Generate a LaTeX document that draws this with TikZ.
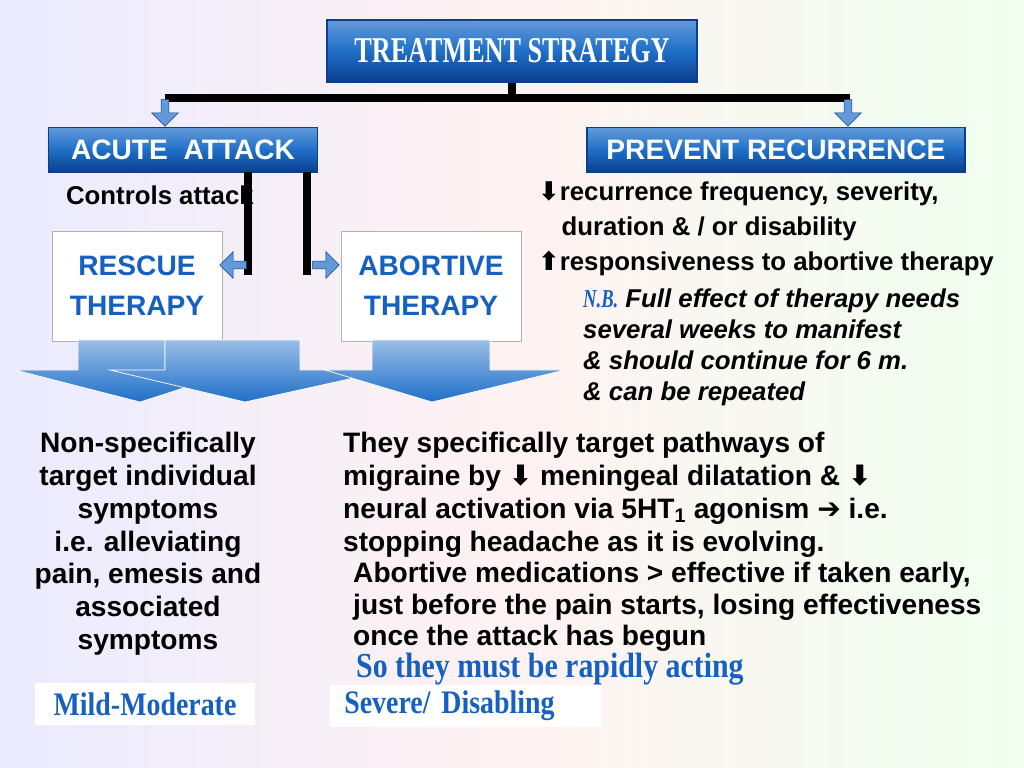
\documentclass[tikz,border=0pt]{standalone}
\usepackage{fontspec}
\setmainfont{Liberation Sans}
\newfontfamily\titlefont{Liberation Serif}[FakeStretch=0.72]
\newfontfamily\labelfont{Liberation Serif}[FakeStretch=0.85]
\newfontfamily\symfont{DejaVu Sans}
\usetikzlibrary{shapes.arrows}
\definecolor{boxblue}{HTML}{1F6FC8}
\definecolor{darkblue}{HTML}{0B3E8C}
\definecolor{txtblue}{HTML}{1560C0}
\newcommand{\dn}{{\symfont\char"2B07}}
\newcommand{\up}{{\symfont\char"2B06}}
\newcommand{\rt}{{\symfont\char"2794}}

\begin{document}
\begin{tikzpicture}[x=0.03cm,y=-0.03cm,font=\bfseries]
	\tikzstyle{headbox}=[draw=darkblue,line width=1.5pt,top color=boxblue!70,bottom color=darkblue,middle color=boxblue,text=white,inner sep=0pt]
	\tikzstyle{therapy}=[draw=gray!60,fill=white,text=txtblue,align=center,minimum width=5.1cm,minimum height=3.3cm,font=\fontsize{24}{34}\selectfont\bfseries]
	\tikzstyle{smallarrow}=[single arrow,draw=darkblue,fill=boxblue!70,minimum height=0.8cm,minimum width=0.8cm,single arrow head extend=3pt,inner sep=1pt]
	\tikzstyle{bigarrow}=[draw=white,line width=0.6pt,top color=boxblue!45,bottom color=boxblue]
	\tikzstyle{severity}=[fill=white,text=txtblue,font=\labelfont\fontsize{28}{30}\selectfont\bfseries,inner sep=0pt]
	\tikzstyle{body}=[align=left,anchor=north west,font=\fontsize{24}{28}\selectfont\bfseries,inner sep=0pt]
	
	\useasboundingbox[left color=blue!8,right color=green!6,middle color=red!5] (0,0) rectangle (1024,768);
	
	\node[headbox,minimum width=11.1cm,minimum height=1.86cm](title) at (512,51){\titlefont\fontsize{31}{31}\selectfont\bfseries TREATMENT STRATEGY};
	\node[headbox,minimum width=8.07cm,minimum height=1.35cm](acute) at (183,150){\fontsize{24}{24}\selectfont\bfseries ACUTE\ \ ATTACK};
	\node[headbox,minimum width=11.34cm,minimum height=1.35cm](prevent) at (776,150){\fontsize{24}{24}\selectfont\bfseries PREVENT RECURRENCE};
	
	\node[therapy](rescue) at (137,286){RESCUE\\THERAPY};
	\node[therapy,minimum width=5.4cm](abortive) at (431,286){ABORTIVE\\THERAPY};
	
	% tree from the title
	\coordinate (bar) at (507,98);
	\draw[line width=6pt] (title.south) -- (title.south |- bar);
	\draw[line width=6pt] (165,98) -- (850,98);
	\node[smallarrow,rotate=-90](downL) at (165,111){};
	\node[smallarrow,rotate=-90](downR) at (848,111){};
	
	% from acute attack to the two therapies
	\draw[line width=6pt] (248,172) -- (248,275);
	\draw[line width=6pt] (307,172) -- (307,275);
	\node[smallarrow,rotate=180](toRescue) at (235,265){};
	\node[smallarrow](toAbortive) at (324,265){};
	
	% big down arrows below the therapies
	\draw[bigarrow] (78,340) -- (165,340) -- (165,370) -- (240,370) -- (140,402) -- (15,370) -- (78,370) -- cycle;
	\draw[bigarrow] (165,340) -- (300,340) -- (300,370) -- (390,370) -- (245,402) -- (110,370) -- (165,370) -- cycle;
	\draw[bigarrow] (372,340) -- (490,340) -- (490,370) -- (565,370) -- (432,402) -- (325,370) -- (372,370) -- cycle;
	
	\node[anchor=west,font=\fontsize{22}{22}\selectfont\bfseries](controls) at (62,195){Controls attack};
	
	\node[body,font=\fontsize{22}{30}\selectfont\bfseries](recur) at (538,181){\dn recurrence frequency, severity,\\
		\hspace{0.7cm}duration \& / or disability\\
		\up responsiveness to abortive therapy};
	\node[body,font=\fontsize{22}{26.4}\selectfont\bfseries\itshape](nb) at (583,289){{\titlefont\color{txtblue}N.B.} Full effect of therapy needs\\
		several weeks to manifest\\
		\& should continue for 6 m.\\
		\& can be repeated};
	
	\node[body,align=center,anchor=north](nonspec) at (148,432){Non-specifically\\target individual\\symptoms\\i.e. alleviating\\pain, emesis and\\associated\\symptoms};
	\node[body](specific) at (343,432){They specifically target pathways of\\
		migraine by \dn\ meningeal dilatation \& \dn\\
		neural activation via 5HT$_{\mathbf 1}$ agonism \rt\ i.e.\\
		stopping headache as it is evolving.};
	\node[body,font=\fontsize{24}{27}\selectfont\bfseries](early) at (353,562){Abortive medications > effective if taken early,\\
		just before the pain starts, losing effectiveness\\
		once the attack has begun};
	\node[anchor=west,text=txtblue,font=\labelfont\fontsize{30}{30}\selectfont\bfseries](rapid) at (352,669){So they must be rapidly acting};
	
	\node[severity,minimum width=6.6cm,minimum height=1.26cm](mild) at (145,704){Mild-Moderate};
	\node[severity,minimum width=8.16cm,minimum height=1.26cm,text width=7.3cm,align=left](severe) at (466,706){Severe/ Disabling};
\end{tikzpicture}
\end{document}
